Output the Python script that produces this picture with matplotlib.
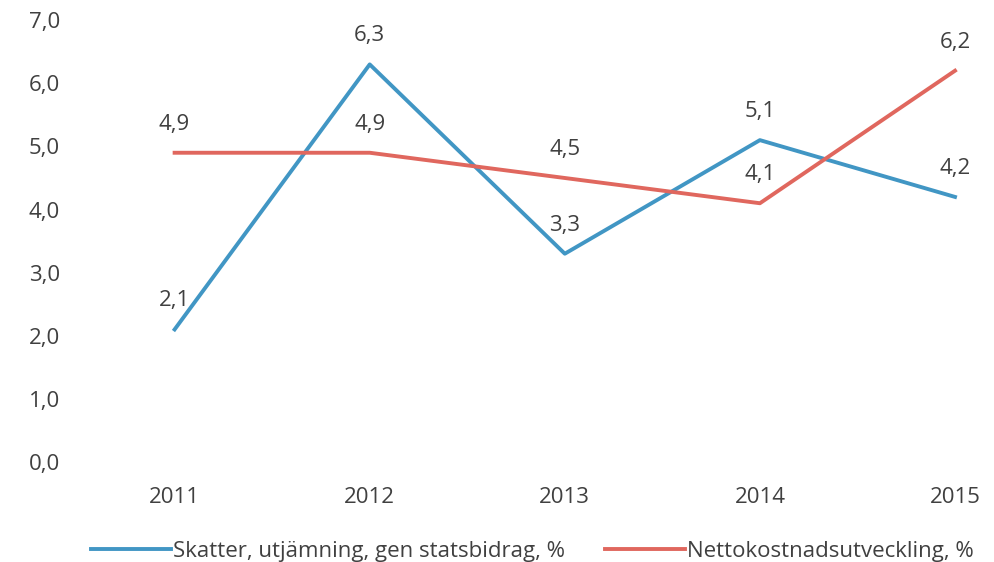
import matplotlib
matplotlib.use("Agg")
import matplotlib.pyplot as plt

years = ["2011", "2012", "2013", "2014", "2015"]
skatter = [2.1, 6.3, 3.3, 5.1, 4.2]
netto = [4.9, 4.9, 4.5, 4.1, 6.2]
skatter_name = "Skatter, utjämning, gen statsbidrag, %"
netto_name = "Nettokostnadsutveckling, %"

plt.rcParams['font.family'] = ['Open Sans', 'DejaVu Sans']
text_col = "#404040"
blue = "#4196c4"
red = "#e0675e"

fig = plt.figure(figsize=(9.95, 5.62), dpi=100)
ax = fig.add_axes([0.08, 0.178, 0.90, 0.786])

x = list(range(len(years)))
ax.plot(x, skatter, color=blue, lw=2.8, label=skatter_name)
ax.plot(x, netto, color=red, lw=2.8, label=netto_name)

# datalabels above the points
for series in (skatter, netto):
    for xi, v in zip(x, series):
        ax.annotate(f"{v:.1f}".replace(".", ","), (xi, v), textcoords="offset points",
                    xytext=(0, 13), ha="center", va="bottom", fontsize=16, color=text_col)

ax.set_xlim(-0.487, 4.103)
ax.set_ylim(0, 7)
ax.set_xticks(x)
ax.set_xticklabels(years)
ax.set_yticks(range(8))
ax.set_yticklabels([f"{v},0" for v in range(8)])
ax.tick_params(length=0, labelsize=16, colors=text_col)
ax.tick_params(axis="x", pad=18)
ax.tick_params(axis="y", pad=14)
for s in ax.spines.values():
    s.set_visible(False)

fig.legend(loc="lower center", bbox_to_anchor=(0.535, -0.035), ncol=2, frameon=False,
           fontsize=16, handlelength=3.6, handletextpad=0.1, columnspacing=1.8,
           labelcolor=text_col)

fig.savefig("out.png", dpi=100)
